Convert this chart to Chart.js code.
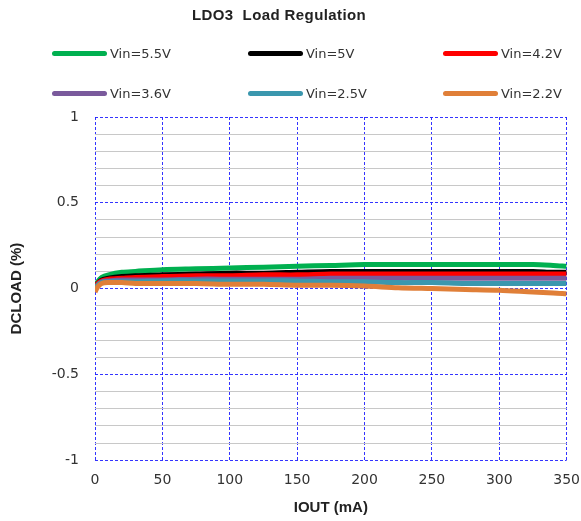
<!DOCTYPE html>
<html><head><meta charset="utf-8">
<script src="https://cdn.jsdelivr.net/npm/chart.js@4"></script>
<style>
html,body{margin:0;padding:0;background:#fff;}
#wrap{position:relative;width:581px;height:521px;}
#title{position:absolute;left:190px;top:6px;width:178px;text-align:center;font:bold 15px "Liberation Sans",Arial,sans-serif;letter-spacing:0.4px;color:#222;white-space:nowrap;}
#legend{position:absolute;left:0;top:0;width:581px;height:110px;font:13px "DejaVu Sans",sans-serif;color:#333;}
.li{position:absolute;display:flex;align-items:center;white-space:nowrap;height:16px;}
.sw{width:55px;height:5px;border-radius:3px;margin-right:3px;}
canvas{position:absolute;left:0;top:0;}
</style></head>
<body><div id="wrap"><canvas id="c" width="581" height="521"></canvas><div id="title">LDO3&nbsp; Load Regulation</div><div id="legend"></div></div>
<script>
const iout = [0, 2, 5, 10, 20, 30, 50, 75, 100, 125, 150, 175, 200, 225, 250, 275, 300, 325, 340, 350];
const seriesNames = ['Vin=5.5V','Vin=5V','Vin=4.2V','Vin=3.6V','Vin=2.5V','Vin=2.2V'];
const vin55 = [0.01, 0.04, 0.065, 0.08, 0.095, 0.10, 0.11, 0.115, 0.12, 0.125, 0.13, 0.135, 0.14, 0.14, 0.14, 0.14, 0.14, 0.14, 0.135, 0.13];
const vin5  = [0.00, 0.03, 0.05, 0.06, 0.07, 0.075, 0.08, 0.085, 0.09, 0.09, 0.095, 0.10, 0.10, 0.10, 0.10, 0.10, 0.10, 0.10, 0.095, 0.095];
const vin42 = [0.00, 0.03, 0.045, 0.055, 0.06, 0.065, 0.07, 0.075, 0.075, 0.08, 0.08, 0.085, 0.085, 0.085, 0.085, 0.085, 0.085, 0.085, 0.085, 0.085];
const vin36 = [-0.01, 0.02, 0.04, 0.045, 0.05, 0.05, 0.05, 0.055, 0.055, 0.055, 0.055, 0.06, 0.06, 0.06, 0.06, 0.06, 0.06, 0.06, 0.06, 0.06];
const vin25 = [-0.01, 0.02, 0.035, 0.04, 0.04, 0.04, 0.045, 0.045, 0.045, 0.045, 0.045, 0.04, 0.04, 0.035, 0.035, 0.03, 0.03, 0.03, 0.03, 0.03];
const vin22 = [-0.02, 0.01, 0.03, 0.035, 0.035, 0.03, 0.03, 0.03, 0.025, 0.025, 0.02, 0.02, 0.015, 0.005, 0.0, -0.005, -0.01, -0.02, -0.025, -0.03];
const xTicks = [0, 50, 100, 150, 200, 250, 300, 350];
const yTicks = [-1, -0.5, 0, 0.5, 1];
const colors = ['#00b050','#000000','#ff0000','#7a5a9c','#3b97ae','#e07f38'];
const allSeries = [vin55, vin5, vin42, vin36, vin25, vin22];

const datasets = allSeries.map((s, i) => ({
  label: seriesNames[i],
  data: s.map((v, j) => ({x: iout[j], y: v})),
  borderColor: colors[i],
  backgroundColor: colors[i],
  borderWidth: 5,
  pointRadius: 0,
  tension: 0.3,
  fill: false,
  order: 6 - i
}));

const isMajor = v => Math.abs(v * 2 - Math.round(v * 2)) < 1e-6;
const tickFont = {family: '"DejaVu Sans", sans-serif', size: 14};
const titleFont = {family: '"Liberation Sans", Arial, sans-serif', size: 15, weight: 'bold'};
const blue = 'rgba(30,30,255,0.9)';

new Chart(document.getElementById('c'), {
  type: 'line',
  data: {datasets},
  options: {
    responsive: false,
    animation: false,
    layout: {padding: {top: 117, right: 1, left: 4, bottom: 1}},
    plugins: {legend: {display: false}, tooltip: {enabled: false}},
    scales: {
      x: {
        type: 'linear', min: 0, max: 350,
        afterBuildTicks: s => { s.ticks = xTicks.map(v => ({value: v})); },
        grid: {color: blue, lineWidth: 1, drawTicks: true, tickLength: 11, tickColor: 'rgba(0,0,0,0)'},
        border: {display: false, dash: [3, 2]},
        ticks: {color: '#333', font: tickFont, padding: 1, maxRotation: 0, autoSkip: false},
        title: {display: true, text: 'IOUT (mA)', color: '#222', font: titleFont, padding: {top: 9, bottom: 3}}
      },
      y: {
        type: 'linear', min: -1, max: 1,
        afterFit: s => { s.width = 91; },
        afterBuildTicks: s => {
          const t = [];
          for (let k = -10; k <= 10; k++) t.push({value: k / 10});
          s.ticks = t;
        },
        ticks: {color: '#333', font: tickFont, padding: 16, autoSkip: false,
          callback: v => isMajor(v) ? String(yTicks.find(t => Math.abs(t - v) < 1e-6)) : ''},
        grid: {drawTicks: false, lineWidth: 1,
          color: c => isMajor(c.tick.value) ? blue : '#c8c8c8'},
        border: {display: false, dash: c => (c.tick && isMajor(c.tick.value)) ? [3, 2] : []},
        title: {display: true, text: 'DCLOAD (%)', color: '#222', font: titleFont, padding: {top: 4, bottom: 4}}
      }
    }
  }
});

const leg = document.getElementById('legend');
const colX = [52, 248, 443], rowY = [45, 85];
seriesNames.forEach((n, i) => {
  const d = document.createElement('div');
  d.className = 'li';
  d.style.left = colX[i % 3] + 'px';
  d.style.top = rowY[Math.floor(i / 3)] + 'px';
  d.innerHTML = '<span class="sw" style="background:' + colors[i] + '"></span><span>' + n + '</span>';
  leg.appendChild(d);
});
</script></body></html>
